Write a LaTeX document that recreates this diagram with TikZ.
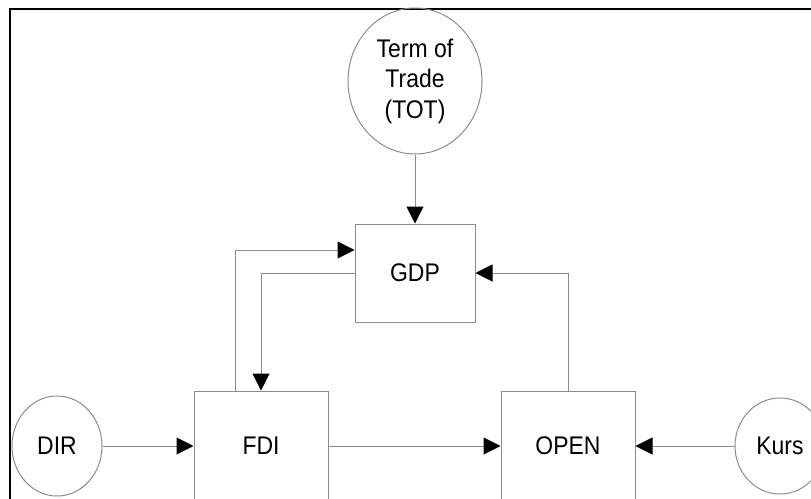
\documentclass[tikz,border=0pt]{standalone}
\usepackage{fontspec}
\setmainfont{Liberation Sans}[FakeStretch=0.9]
\usetikzlibrary{arrows.meta,shapes.geometric}
\definecolor{linegray}{RGB}{140,140,140}

\begin{document}
\begin{tikzpicture}[x=1pt,y=-1pt,thin,
    every node/.style={font=\fontsize{25.5}{30.5}\selectfont,align=center,inner sep=0pt},
    var node/.style={rectangle,draw=linegray,line width=1pt},
    ext node/.style={ellipse,draw=linegray,line width=1pt},
    conn/.style={draw=linegray,line width=1pt,-{Triangle[length=17pt,width=17pt,color=black]}},
    hv/.style={to path={|- (\tikztotarget)}},
    vh/.style={to path={-| (\tikztotarget)}}]
        \useasboundingbox (0,0) rectangle (811,498);
        \clip (0,0) rectangle (811,498);
        \draw[line width=2.5pt] (10,500) -- (10,9) -- (812,9);

        \node[ext node, minimum width=134, minimum height=146] at (415, 81) (tot) {Term of\\Trade\\(TOT)};
        \node[var node, minimum width=120, minimum height=98] at (415, 273) (gdp) {GDP};
        \node[var node, minimum width=134, minimum height=110] at (261, 446) (fdi) {FDI};
        \node[var node, minimum width=134, minimum height=110] at (568, 446) (open) {OPEN};
        \node[ext node, minimum width=90, minimum height=100] at (57, 446) (dir) {DIR};
        \node[ext node, minimum width=90, minimum height=96] at (780, 446) (kurs) {Kurs};

        \path[every edge/.style={conn}]
            (tot) edge (gdp)
            ([xshift=-26pt]fdi.north) edge[hv] ([yshift=23pt]gdp.west)
            (gdp.west) edge[vh] (fdi.north)
            (open.north) edge[hv] (gdp.east)
            (dir) edge (fdi)
            (fdi) edge (open)
            (kurs) edge (open)
            ;
\end{tikzpicture}
\end{document}
